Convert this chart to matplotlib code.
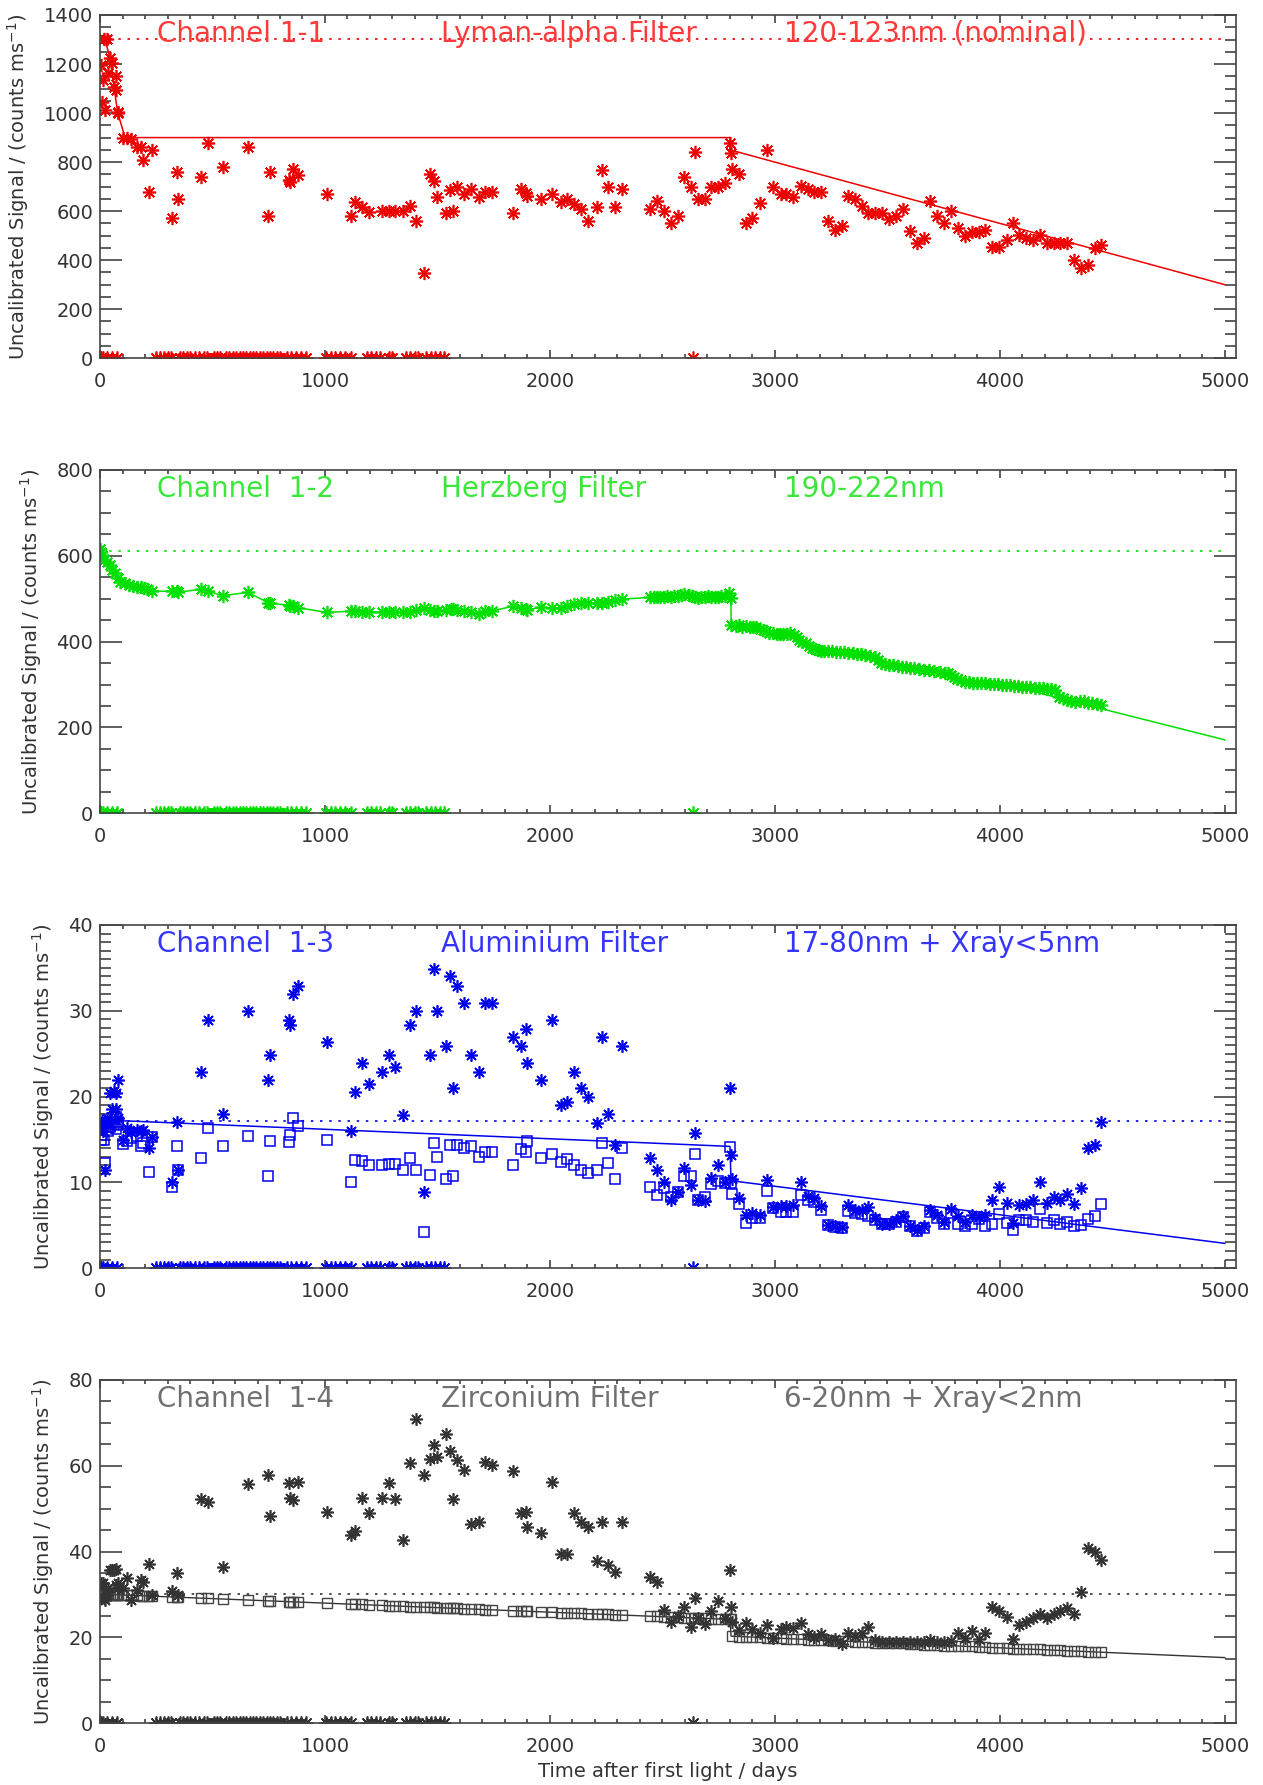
import matplotlib
matplotlib.use("Agg")
import matplotlib.pyplot as plt
from matplotlib.ticker import MultipleLocator

# observation times (days after first light) shared by channels 1-1, 1-3, 1-4
days = [5, 9, 13, 18, 24, 31, 36, 45, 54, 63, 69, 72, 78, 81,
        100, 121, 139, 163, 181, 190, 217, 232,
        322, 340, 347, 447, 480, 547, 657, 746, 755, 838, 845, 856, 881,
        1010, 1117, 1135, 1164, 1195, 1254, 1285, 1312, 1345, 1377, 1406, 1439, 1468, 1486, 1499,
        1538, 1556, 1571, 1589, 1620, 1651, 1683, 1710, 1743, 1834, 1873, 1895, 1900, 1960,
        2009, 2047, 2076, 2109, 2139, 2167, 2208, 2232, 2259, 2290, 2320,
        2445, 2476, 2505, 2536, 2569, 2596, 2627, 2645, 2658, 2687, 2718, 2745, 2778,
        2800, 2804, 2809, 2840, 2873, 2900, 2933, 2964, 2991,
        3027, 3051, 3082, 3115, 3145, 3173, 3204, 3236, 3267, 3296, 3327, 3355, 3385, 3415, 3445, 3478,
        3509, 3540, 3569, 3600, 3633, 3664, 3691, 3722, 3751, 3782, 3813, 3845, 3876, 3905, 3936, 3967, 3996,
        4033, 4060, 4087, 4118, 4149, 4178, 4209, 4240, 4269, 4300, 4331, 4360, 4391, 4422, 4451]

ch1 = [1197, 1047, 1136, 1302, 1013, 1302, 1165, 1224, 1204, 1108, 1150, 1095, 1004, 999,
       897, 900, 893, 863, 863, 809, 680, 850,
       571, 761, 648, 741, 879, 779, 860, 580, 760, 727, 720, 771, 749,
       670, 580, 639, 618, 598, 599, 599, 599, 599, 622, 560, 349, 751, 723, 659,
       591, 686, 602, 700, 670, 689, 659, 677, 677, 591, 689, 675, 662, 648,
       670, 639, 648, 629, 609, 560, 618, 768, 697, 618, 689,
       609, 641, 601, 550, 580, 741, 700, 843, 650, 650, 700, 700, 713,
       877, 839, 771, 750, 550, 571, 632, 850, 700,
       670, 670, 659, 703, 689, 679, 679, 561, 523, 539, 663, 650, 622, 591, 591, 591,
       568, 580, 609, 520, 469, 489, 641, 580, 550, 602, 530, 500, 514, 514, 523, 455, 455,
       482, 553, 503, 492, 482, 503, 472, 472, 472, 472, 401, 370, 380, 449, 460]

ch3_raw = [16.5, 17.2, 16.0, 16.8, 11.5, 17.5, 17.0, 20.4, 18.5, 20.6, 20.4, 18.5, 21.9, 17.5,
           15.0, 16.4, 15.9, 16.1, 16.0, 16.1, 14.0, 15.3,
           10.0, 17.0, 11.4, 22.9, 28.9, 18.0, 30.0, 21.9, 24.9, 28.9, 28.4, 31.9, 32.9,
           26.4, 16.0, 20.5, 23.9, 21.5, 22.9, 24.9, 23.4, 17.9, 28.4, 30.0, 8.9, 24.9, 34.9, 30.0,
           25.9, 34.0, 21.0, 32.9, 30.9, 24.9, 22.9, 30.9, 30.9, 26.9, 25.9, 27.9, 23.9, 21.9,
           28.9, 19.0, 19.4, 22.9, 21.0, 20.0, 16.9, 26.9, 18.0, 14.4, 25.9,
           12.9, 11.5, 10.1, 8.0, 8.9, 11.7, 9.7, 15.8, 8.0, 7.8, 10.5, 12.0, 10.0,
           21.0, 13.2, 10.4, 8.2, 6.2, 6.4, 6.2, 10.3, 7.1,
           7.3, 7.3, 7.4, 10.1, 8.4, 8.2, 7.3, 5.0, 4.9, 4.8, 7.4, 6.8, 6.8, 7.1, 5.8, 5.2,
           5.2, 5.6, 6.1, 4.9, 4.5, 4.9, 6.8, 6.2, 5.4, 6.9, 6.1, 5.4, 6.2, 6.0, 6.2, 8.0, 9.5,
           7.6, 5.3, 7.4, 7.5, 7.9, 10.1, 7.6, 8.3, 8.0, 8.7, 7.5, 9.3, 14.0, 14.4, 17.1]

ch3_corr = [14.9, 15.5, 16.5, 15.0, 12.3, 16.9, 16.0, 16.5, 17.0, 16.8, 16.2, 17.6, 17.0, 16.7,
            14.5, 14.8, 15.2, 15.4, 14.2, 14.6, 11.2, 15.3,
            9.5, 14.3, 11.4, 12.9, 16.3, 14.3, 15.4, 10.8, 14.8, 14.7, 15.5, 17.5, 16.6,
            15.0, 10.1, 12.6, 12.5, 12.0, 12.0, 12.2, 12.2, 11.5, 12.8, 11.5, 4.2, 10.9, 14.6, 13.0,
            10.4, 14.4, 10.8, 14.4, 14.0, 14.3, 13.0, 13.5, 13.6, 12.0, 13.9, 13.6, 14.8, 12.9,
            13.3, 12.4, 12.7, 12.0, 11.5, 11.1, 11.5, 14.6, 12.3, 10.4, 14.0,
            9.5, 8.5, 9.3, 8.3, 8.9, 10.7, 10.7, 13.3, 8.0, 8.3, 9.8, 10.2, 9.9,
            14.1, 9.9, 8.7, 7.5, 5.3, 5.9, 5.9, 9.0, 7.0,
            6.6, 6.6, 6.6, 8.5, 8.0, 7.7, 6.8, 5.0, 4.8, 4.7, 6.7, 6.4, 6.3, 6.1, 5.6, 5.2,
            5.2, 5.4, 6.0, 4.9, 4.3, 4.7, 6.5, 5.8, 5.2, 6.4, 5.2, 4.9, 5.2, 5.7, 4.9, 5.2, 6.3,
            5.3, 4.5, 5.6, 5.6, 5.4, 6.9, 5.3, 5.6, 5.2, 5.4, 4.9, 5.0, 5.7, 6.1, 7.5]

ch4_raw = [32.6, 31.8, 32.7, 29.1, 28.8, 29.9, 31.5, 35.8, 35.8, 35.7, 32.2, 36.0, 32.7, 31.5,
           31.5, 33.9, 28.8, 31.0, 33.4, 33.0, 37.2, 29.9,
           30.8, 35.0, 29.9, 52.2, 51.6, 36.3, 55.7, 57.9, 48.2, 55.9, 52.4, 52.0, 56.2,
           49.3, 43.9, 44.9, 52.6, 49.1, 52.4, 56.1, 52.2, 42.6, 60.7, 70.8, 57.9, 61.7, 64.9, 62.0,
           67.3, 63.5, 52.2, 61.4, 59.0, 46.4, 47.0, 61.0, 60.3, 58.8, 48.9, 49.3, 45.8, 44.3,
           56.2, 39.4, 39.5, 48.9, 46.8, 45.8, 37.9, 46.8, 36.9, 35.3, 46.8,
           34.0, 33.0, 26.4, 23.7, 24.9, 27.0, 22.4, 29.1, 24.5, 23.1, 26.2, 28.6, 24.5,
           35.7, 27.0, 23.7, 21.7, 23.3, 21.9, 21.0, 22.8, 19.8,
           21.9, 22.4, 22.1, 23.3, 20.7, 20.0, 20.7, 19.4, 19.6, 18.5, 21.1, 20.4, 21.1, 22.5, 19.4, 19.0,
           19.0, 18.9, 19.0, 18.9, 19.0, 18.9, 19.4, 19.0, 18.9, 19.2, 21.0, 19.8, 21.4, 19.6, 21.1, 27.2, 26.2,
           24.7, 19.7, 22.9, 23.5, 24.5, 25.4, 24.5, 25.4, 26.2, 26.8, 25.4, 30.7, 40.9, 39.8, 38.1]

ch4_corr = [30.3, 30.0, 30.2, 29.9, 30.1, 30.0, 30.2, 30.1, 29.9, 30.0, 30.1, 30.0, 29.9, 30.0,
            29.9, 29.8, 29.8, 29.8, 29.7, 29.7, 29.6, 29.6,
            29.4, 29.4, 29.4, 29.2, 29.1, 29.0, 28.7, 28.5, 28.5, 28.3, 28.3, 28.3, 28.2,
            28.0, 27.7, 27.7, 27.7, 27.6, 27.5, 27.4, 27.3, 27.3, 27.2, 27.1, 27.1, 27.0, 27.0, 26.9,
            26.9, 26.8, 26.8, 26.8, 26.7, 26.6, 26.6, 26.5, 26.4, 26.2, 26.2, 26.1, 26.1, 26.0,
            25.9, 25.8, 25.7, 25.7, 25.6, 25.5, 25.5, 25.4, 25.4, 25.3, 25.2,
            25.0, 24.9, 24.8, 24.8, 24.7, 24.6, 24.6, 24.5, 24.5, 24.5, 24.4, 24.3, 24.3,
            24.2, 24.2, 20.3, 20.2, 20.1, 20.1, 20.0, 19.9, 19.9,
            19.8, 19.7, 19.7, 19.6, 19.5, 19.5, 19.4, 19.3, 19.2, 19.2, 19.1, 19.0, 19.0, 18.9, 18.8, 18.8,
            18.7, 18.6, 18.6, 18.5, 18.4, 18.3, 18.3, 18.2, 18.1, 18.1, 18.0, 17.9, 17.9, 17.8, 17.7, 17.6, 17.6,
            17.5, 17.4, 17.4, 17.3, 17.2, 17.2, 17.1, 17.0, 17.0, 16.9, 16.8, 16.8, 16.7, 16.6, 16.6]

# channel 1-2 (Herzberg) has its own, denser sampling
days2 = [0, 5, 9, 18, 31, 45, 54, 67, 78, 90,
         109, 127, 145, 163, 181, 194, 208, 230, 322, 340,
         347, 447, 480, 547, 657, 746, 755, 838, 845, 856,
         881, 1010, 1117, 1135, 1164, 1195, 1254, 1285, 1312, 1345,
         1377, 1406, 1439, 1468, 1486, 1499, 1538, 1560, 1571, 1589,
         1620, 1651, 1683, 1710, 1743, 1834, 1873, 1895, 1900, 1960,
         2009, 2051, 2076, 2109, 2139, 2167, 2208, 2232, 2259, 2290,
         2320, 2445, 2462, 2476, 2490, 2505, 2520, 2536, 2552, 2569,
         2582, 2596, 2618, 2632, 2645, 2658, 2672, 2687, 2703, 2718,
         2732, 2745, 2762, 2778, 2796, 2804, 2806, 2827, 2841, 2855,
         2871, 2887, 2903, 2918, 2932, 2945, 2960, 2973, 2990, 3009,
         3022, 3036, 3052, 3069, 3087, 3098, 3109, 3122, 3136, 3150,
         3164, 3178, 3191, 3205, 3218, 3236, 3255, 3273, 3291, 3309,
         3327, 3345, 3364, 3382, 3400, 3422, 3445, 3460, 3473, 3491,
         3509, 3527, 3545, 3564, 3582, 3600, 3618, 3641, 3664, 3687,
         3709, 3732, 3755, 3769, 3782, 3795, 3809, 3827, 3845, 3864,
         3882, 3900, 3918, 3936, 3955, 3973, 3991, 4009, 4027, 4045,
         4064, 4082, 4100, 4118, 4136, 4155, 4173, 4191, 4209, 4227,
         4245, 4264, 4282, 4300, 4318, 4336, 4355, 4373, 4391, 4409,
         4430, 4451]

ch2 = [617, 610, 602, 590, 586, 579, 567, 559, 548, 540,
       536, 532, 530, 528, 527, 524, 522, 518, 517, 517,
       515, 522, 517, 507, 515, 491, 489, 485, 484, 482,
       479, 468, 471, 472, 470, 470, 468, 470, 470, 468,
       470, 474, 478, 473, 472, 472, 474, 476, 476, 474,
       472, 468, 465, 472, 472, 482, 478, 475, 474, 480,
       478, 478, 482, 488, 491, 489, 489, 491, 493, 496,
       499, 503, 504, 505, 504, 505, 506, 505, 507, 506,
       508, 510, 509, 506, 503, 502, 504, 505, 506, 505,
       504, 505, 506, 507, 513, 502, 439, 437, 438, 435,
       436, 434, 433, 433, 430, 427, 424, 421, 419, 418,
       417, 417, 418, 419, 416, 410, 404, 400, 396, 390,
       384, 382, 381, 379, 378, 377, 377, 376, 375, 375,
       374, 373, 372, 371, 369, 367, 365, 358, 350, 348,
       346, 345, 343, 342, 340, 339, 338, 336, 334, 333,
       332, 330, 328, 326, 322, 318, 313, 310, 307, 305,
       304, 304, 304, 303, 302, 302, 301, 300, 299, 298,
       297, 296, 295, 295, 294, 292, 291, 291, 290, 289,
       287, 270, 268, 264, 262, 260, 262, 262, 258, 256,
       254, 252]

# days with a zero reading (drawn on the bottom axis)
zero_days = [3, 14, 30, 55, 75, 250, 265, 285, 300, 315, 355, 370, 385, 400, 420,
             440, 460, 475, 505, 520, 535, 560, 575, 590, 605, 620, 635, 650, 665,
             680, 695, 710, 725, 740, 755, 770, 785, 800, 830, 850, 870, 895, 915,
             1005, 1025, 1045, 1065, 1090, 1115, 1185, 1205, 1225, 1245, 1285, 1300,
             1360, 1380, 1400, 1415, 1450, 1470, 1490, 1510, 1530, 2636]

# trend lines and nominal levels
fit1_x = [22, 44, 62, 78, 111, 2800, 2800, 5000]
fit1_y = [1302, 1224, 1108, 1004, 900, 900, 850, 300]
fit2_x = [3950, 5000]
fit2_y = [310, 171]
fit3_x = [0, 2800, 2805, 5000]
fit3_y = [17.3, 14.2, 10.2, 2.9]
fit4_x = [0, 2800, 2805, 5000]
fit4_y = [30.1, 24.2, 20.3, 15.3]
nominal = [1302, 612, 17.2, 30.1]

titles = [["Channel 1-1", "Lyman-alpha Filter", "120-123nm (nominal)"],
          ["Channel  1-2", "Herzberg Filter", "190-222nm"],
          ["Channel  1-3", "Aluminium Filter", "17-80nm + Xray<5nm"],
          ["Channel  1-4", "Zirconium Filter", "6-20nm + Xray<2nm"]]
title_x = [253, 1516, 3040]

ymax = [1400, 800, 40, 80]
ymaj = [200, 200, 10, 20]
ymin = [50, 50, 1, 5]
colors = ['#ee0000', '#00e000', '#0000ee', '#333333']
text_colors = ['#ff3a3a', '#3ae83a', '#3535ff', '#707070']
bottoms = [0.7993, 0.5444, 0.2895, 0.0346]

star = (8, 2, 0)

fig = plt.figure(figsize=(12.63, 17.85), dpi=100)
axes = []
for i in range(4):
    ax = fig.add_axes([0.0792, bottoms[i], 0.8995, 0.1923])
    axes.append(ax)
    c = colors[i]
    ax.set_xlim(0, 5050)
    ax.set_ylim(0, ymax[i])
    ax.xaxis.set_major_locator(MultipleLocator(1000))
    ax.xaxis.set_minor_locator(MultipleLocator(100))
    ax.yaxis.set_major_locator(MultipleLocator(ymaj[i]))
    ax.yaxis.set_minor_locator(MultipleLocator(ymin[i]))
    ax.tick_params(which='both', direction='in', top=True, right=True,
                   labelsize=14, colors='#333333', width=1.1)
    ax.tick_params(axis='y', which='major', length=16, pad=5)
    ax.tick_params(axis='y', which='minor', length=8)
    ax.tick_params(axis='x', which='major', length=6, pad=10)
    ax.tick_params(axis='x', which='minor', length=3)
    for s in ax.spines.values():
        s.set_color('#444444')
        s.set_linewidth(1.2)
    ax.set_ylabel('Uncalibrated Signal / (counts ms$^{-1}$)', fontsize=14,
                  color='#333333', labelpad=9)

    ax.plot([0, 5000], [nominal[i], nominal[i]], color=c, lw=1.2, ls=(0, (1.5, 4)))
    ax.plot(zero_days, [0] * len(zero_days), ls='none', marker=star, ms=10,
            mew=1.2, color=c)
    for j in range(3):
        ax.text(title_x[j], 0.945, titles[i][j], transform=ax.get_xaxis_transform(),
                color=text_colors[i], fontsize=20, va='center', ha='left')

ax1, ax2, ax3, ax4 = axes

ax1.plot(fit1_x, fit1_y, color=colors[0], lw=1.1)
ax1.plot(days, ch1, ls='none', marker=star, ms=9.5, mew=1.2, color=colors[0])

ax2.plot(days2, ch2, color=colors[1], lw=1.1, marker=star, ms=9.5, mew=1.2)
ax2.plot(fit2_x, fit2_y, color=colors[1], lw=1.1)

ax3.plot(fit3_x, fit3_y, color=colors[2], lw=1.1)
ax3.plot(days, ch3_corr, ls='none', marker='s', ms=7.5, mfc='none', mew=1.1, color=colors[2])
ax3.plot(days, ch3_raw, ls='none', marker=star, ms=9, mew=1.2, color=colors[2])

ax4.plot(fit4_x, fit4_y, color=colors[3], lw=1.0)
ax4.plot(days, ch4_corr, ls='none', marker='s', ms=7.5, mfc='none', mew=1.0, color='#444444')
ax4.plot(days, ch4_raw, ls='none', marker=star, ms=9, mew=1.2, color=colors[3])
ax4.set_xlabel('Time after first light / days', fontsize=14, color='#333333', labelpad=4)

fig.savefig('out.png', dpi=100)
